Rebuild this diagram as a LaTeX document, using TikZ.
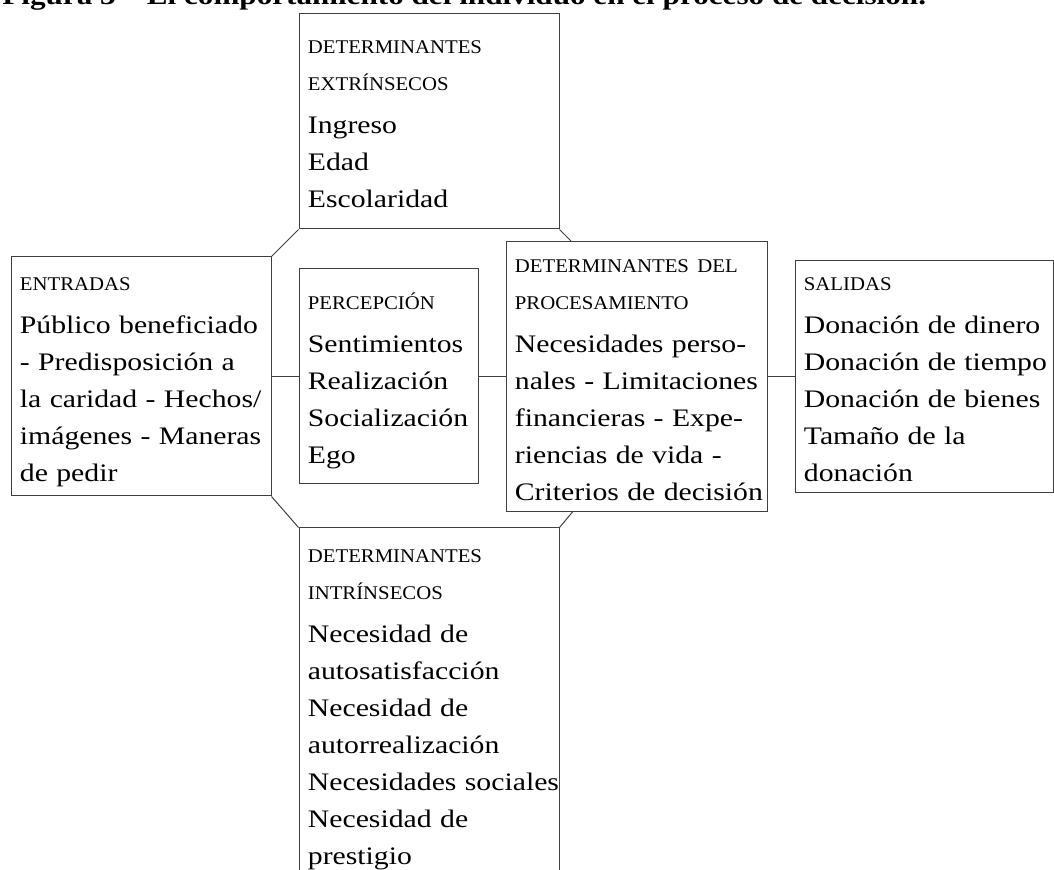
\documentclass[tikz,border=0pt]{standalone}
\usepackage{fontspec}
\setmainfont[FakeStretch=1.18]{Liberation Serif}
\newfontfamily\capsfont[FakeStretch=1.07]{Liberation Serif}
\usepackage{tikz}
\usetikzlibrary{positioning}
\usetikzlibrary{calc}

\newcommand{\hdr}{\capsfont\fontsize{9.7}{18.5}\selectfont\rule{0pt}{10pt}}
\newcommand{\cuerpo}{\rmfamily\fontsize{12.6}{18.5}\selectfont}

\begin{document}
\begin{tikzpicture}[box/.style={draw=black!75,line width=.5pt,rectangle,inner sep=0pt,fill=white},
  txt/.style={inner sep=0pt,text width=150pt,align=left,font=\cuerpo},
  lin/.style={draw=black!75,line width=.5pt}]%
\path[use as bounding box,fill=white] (0,0) rectangle (527pt,-435pt);
\clip (0,0) rectangle (527pt,-435pt);
% titulo (cortado arriba)
\node[anchor=base west,inner sep=0pt,font=\bfseries\fontsize{13.2}{16}\selectfont] (titulo) at (1pt,-2.5pt) {Figura 3 -- El comportamiento del individuo en el proceso de decisión.};
% cajas
\draw node [box,minimum width=89.5pt,minimum height=107.5pt] (percep) at (194.25pt,-188.25pt) {};
\draw node [box,minimum width=130pt,minimum height=119.5pt] [left=13.5pt of percep] (entradas) {};
\draw node [box,minimum width=130pt,minimum height=107.5pt] [above right=19.5pt and 0pt of percep.north west] (extrin) {};
\draw node [box,minimum width=130pt,minimum height=200pt] [below right=21.5pt and 0pt of percep.south west] (intrin) {};
% octagono
\coordinate (esqNE) at ($(extrin.south east)+(13.5pt,-13.5pt)$);
\coordinate (esqSE) at ($(intrin.north east)+(13pt,15.5pt)$);
\draw [lin] (extrin.south west) -- (entradas.north east);
\draw [lin] (entradas.south east) -- (intrin.north west);
\draw [lin] (extrin.south east) -- (esqNE);
\draw [lin] (intrin.north east) -- (esqSE);
\draw node [box,minimum width=130.5pt,minimum height=135pt] [right=13.5pt of percep] (proc) {};
\draw node [box,minimum width=129pt,minimum height=116pt] [right=13.5pt of proc] (salidas) {};
% conectores
\draw [lin] (entradas.east) -- (percep.west);
\draw [lin] (percep.east) -- (proc.west);
\draw [lin] (proc.east) -- (salidas.west);
% textos
\node [txt] [below right=10pt and 4.5pt of extrin.north west] (extrin-t) {\hdr DETERMINANTES\\EXTRÍNSECOS\\[3pt]\cuerpo Ingreso\\Edad\\Escolaridad};
\node [txt] [below right=7pt and 4.5pt of entradas.north west] (entradas-t) {\hdr ENTRADAS\\[3pt]\cuerpo Público beneficiado\\- Predisposición a\\la caridad - Hechos/\\imágenes - Maneras\\de pedir};
\node [txt] [below right=10.5pt and 4.5pt of percep.north west] (percep-t) {\hdr PERCEPCIÓN\\[3pt]\cuerpo Sentimientos\\Realización\\Socialización\\Ego};
\node [txt] [below right=5.5pt and 4.5pt of proc.north west] (proc-t) {\hdr DETERMINANTES DEL\\PROCESAMIENTO\\[3pt]\cuerpo Necesidades perso-\\nales - Limitaciones\\financieras - Expe-\\riencias de vida -\\Criterios de decisión};
\node [txt] [below right=5pt and 4.5pt of salidas.north west] (salidas-t) {\hdr SALIDAS\\[3pt]\cuerpo Donación de dinero\\Donación de tiempo\\Donación de bienes\\Tamaño de la\\donación};
\node [txt] [below right=7.5pt and 4.5pt of intrin.north west] (intrin-t) {\hdr DETERMINANTES\\INTRÍNSECOS\\[3pt]\cuerpo Necesidad de\\autosatisfacción\\Necesidad de\\autorrealización\\Necesidades sociales\\Necesidad de\\prestigio};
\end{tikzpicture}
\end{document}
